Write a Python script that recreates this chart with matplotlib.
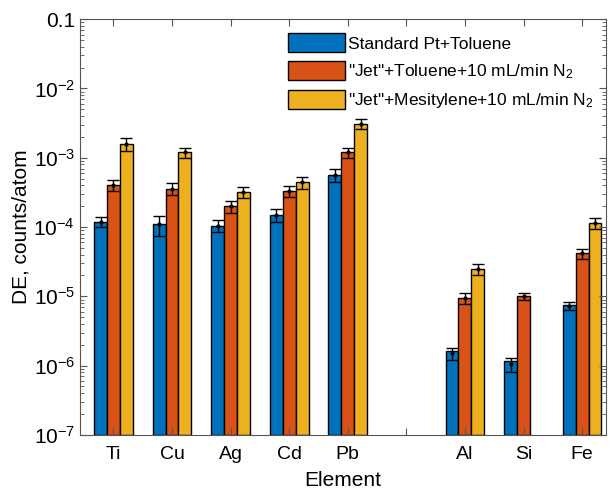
import matplotlib
matplotlib.use('Agg')
import matplotlib.pyplot as plt
import numpy as np
from matplotlib.ticker import FixedLocator, FixedFormatter, LogLocator, NullFormatter

plt.rcParams['font.family'] = ['Liberation Sans', 'DejaVu Sans']
plt.rcParams['mathtext.fontset'] = 'custom'
plt.rcParams['mathtext.rm'] = 'Liberation Sans'
plt.rcParams['mathtext.it'] = 'Liberation Sans:italic'
plt.rcParams['mathtext.default'] = 'regular'

# Data
elements = ['Ti', 'Cu', 'Ag', 'Cd', 'Pb', '', 'Al', 'Si', 'Fe']
positions = [1, 2, 3, 4, 5, 6, 7, 8, 9]

std_pt = [1.2e-4, 1.1e-4, 1.05e-4, 1.5e-4, 5.7e-4, np.nan, 1.5e-6, 1.05e-6, 7.3e-6]
std_pt_err = [0.2e-4, 0.35e-4, 0.2e-4, 0.3e-4, 1.2e-4, np.nan, 0.3e-6, 0.25e-6, 1.0e-6]

jet_tol = [4.0e-4, 3.6e-4, 2.0e-4, 3.3e-4, 1.2e-3, np.nan, 9.5e-6, 1.0e-5, 4.2e-5]
jet_tol_err = [0.7e-4, 0.7e-4, 0.4e-4, 0.6e-4, 0.2e-3, np.nan, 1.8e-6, 0.1e-5, 0.7e-5]

jet_mes = [1.6e-3, 1.2e-3, 3.2e-4, 4.4e-4, 3.1e-3, np.nan, 2.5e-5, np.nan, 1.15e-4]
jet_mes_err = [0.35e-3, 0.2e-3, 0.55e-4, 0.8e-4, 0.5e-3, np.nan, 0.45e-5, np.nan, 0.2e-4]

series = [
    ('Standard Pt+Toluene', std_pt, std_pt_err, '#0072BD'),
    ('"Jet"+Toluene+10 mL/min N$_2$', jet_tol, jet_tol_err, '#D95319'),
    ('"Jet"+Mesitylene+10 mL/min N$_2$', jet_mes, jet_mes_err, '#EDB120'),
]

fig = plt.figure(figsize=(6.11, 4.92), dpi=100)
ax = fig.add_axes([0.131, 0.116, 0.861, 0.845])

x = np.array(positions, dtype=float)
w = 0.22
for i, (label, vals, errs, color) in enumerate(series):
    xi = x + (i - 1) * w
    ax.bar(xi, vals, width=w, bottom=1e-7, color=color, edgecolor='black',
           linewidth=1.0, label=label)
    ax.errorbar(xi, vals, yerr=errs, fmt='.', color='black', markersize=4,
                elinewidth=1.0, capsize=4, capthick=1.0)

ax.set_yscale('log')
ax.set_ylim(1e-7, 0.1)
ax.set_xlim(0.43, 9.41)

ax.set_xticks(positions)
ax.set_xticklabels(elements, fontsize=14)

decades = [1e-7, 1e-6, 1e-5, 1e-4, 1e-3, 1e-2, 1e-1]
ylabels = ['$10^{-7}$', '$10^{-6}$', '$10^{-5}$', '$10^{-4}$', '$10^{-3}$', '$10^{-2}$', '0.1']
ax.yaxis.set_major_locator(FixedLocator(decades))
ax.yaxis.set_major_formatter(FixedFormatter(ylabels))
ax.yaxis.set_minor_locator(LogLocator(base=10, subs=np.arange(2, 10)))
ax.yaxis.set_minor_formatter(NullFormatter())
ax.tick_params(axis='y', which='major', labelsize=15, direction='in', length=5,
               right=True, color='#555555')
ax.tick_params(axis='y', which='minor', direction='in', length=3, right=True,
               color='#555555')
ax.tick_params(axis='x', which='major', direction='in', length=5, top=True,
               color='#555555', pad=8)

for s in ax.spines.values():
    s.set_color('#555555')
    s.set_linewidth(0.8)

ax.set_xlabel('Element', fontsize=15, labelpad=6)
ax.set_ylabel('DE, counts/atom', fontsize=15, labelpad=2)

leg = ax.legend(loc='upper right', bbox_to_anchor=(1.0, 0.995), frameon=False,
                fontsize=12.5, handlelength=3.3, handleheight=1.3,
                handletextpad=0.2, labelspacing=0.5, borderaxespad=0.3)

fig.savefig('out.png', dpi=100)
